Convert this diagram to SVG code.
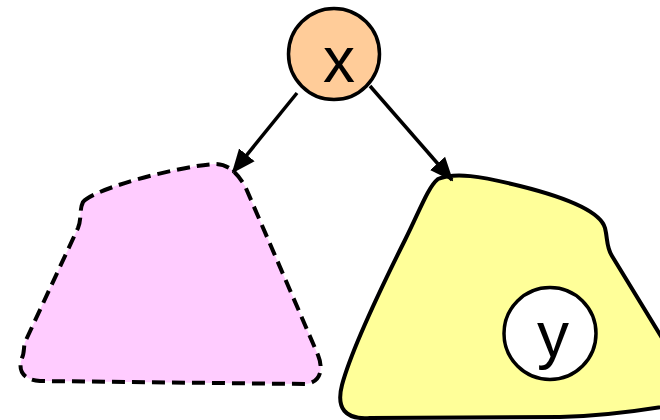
<svg xmlns="http://www.w3.org/2000/svg" width="660" height="420" viewBox="0 0 660 420">
<style>
.lbl{font-family:"Liberation Sans",Arial,sans-serif;fill:#000;text-anchor:middle}
.edge{stroke:#000;stroke-width:3.5;fill:none}
</style>
<defs>
<marker id="ah" markerUnits="userSpaceOnUse" markerWidth="24" markerHeight="22" viewBox="0 0 24 22" refX="22" refY="11" orient="auto">
<path d="M0 1 L24 11 L0 21 Z" fill="#000"/>
</marker>
</defs>
<rect width="660" height="420" fill="#fff"/>
<g id="left-subtree">
<path d="M83 202 C95 188 180 166 215 164 C230 164 238 175 245 186 L318 355 C324 370 320 383 305 384 L40 381 C25 380 17 372 22 358 C25 352 23 345 26 340 L78 228 C82 218 79 210 83 202 Z" fill="#FFCCFF" stroke="#000" stroke-width="4" stroke-dasharray="13 7"/>
</g>
<g id="right-subtree">
<path d="M438 179 C455 172 480 176 520 186 C560 196 600 210 605 228 C608 240 606 246 612 256 L700 400 C640 412 600 416 560 417 L370 418 C345 420 336 408 342 385 C350 355 375 300 405 240 C420 210 428 187 438 179 Z" fill="#FFFF99" stroke="#000" stroke-width="4"/>
</g>
<g id="connectors">
<line class="edge" x1="297" y1="93" x2="233" y2="172" marker-end="url(#ah)"/>
<line class="edge" x1="370" y1="86" x2="452" y2="180" marker-end="url(#ah)"/>
</g>
<g id="node-x">
<circle cx="334" cy="54" r="45.5" fill="#FFCC99" stroke="#000" stroke-width="3.5"/>
<text class="lbl" x="339" y="82" font-size="64">x</text>
</g>
<g id="node-y">
<circle cx="550" cy="333.5" r="46" fill="#fff" stroke="#000" stroke-width="3.5"/>
<text class="lbl" x="553" y="357" font-size="64">y</text>
</g>
</svg>
